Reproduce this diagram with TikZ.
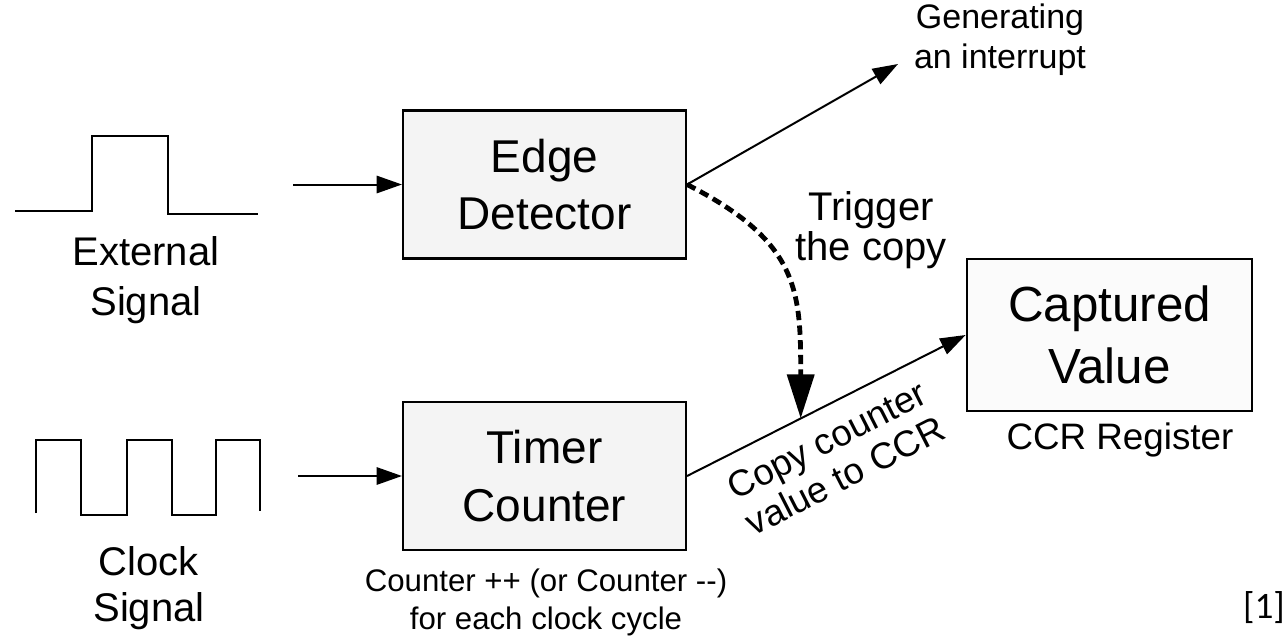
\documentclass[tikz,border=0pt]{standalone}
\usepackage{fontspec}
\setmainfont{Liberation Sans}
\newfontfamily\reffont{Carlito}
\usetikzlibrary{arrows.meta}

\tikzset{every picture/.style={line width=1.5pt}}
\tikzset{
  block/.style={draw, line width=1.8pt, fill=gray!9, minimum width=212pt, minimum height=111pt,
    inner sep=0pt, align=center, font=\fontsize{34.5}{43}\selectfont},
  sig/.style={line width=1.5pt, line join=miter},
  conn/.style={line width=1.5pt, -{Triangle[length=19pt, width=13pt]}},
  trig/.style={line width=3.6pt, dash pattern={on 7pt off 4pt},
    -{Triangle[length=33pt, width=20pt]}},
  lbl/.style={align=center, inner sep=0pt}
}

\begin{document}
\begin{tikzpicture}[x=0.75pt,y=0.75pt,yscale=-1,xscale=1]
\useasboundingbox (0,0) rectangle (1286,640);

% blocks
\node [block] (ed) at (544.5,184.5) {Edge\\Detector};
\node [block] (tc) at (544.5,476) {Timer\\Counter};
\node [block, fill=gray!3, minimum width=214pt, minimum height=114pt,
  font=\fontsize{37}{47}\selectfont] (cv) at (1109.5,335) {Captured\\Value};

% external signal
\draw [sig] (15,211) -- (92,211) -- (92,136) -- (168,136) -- (168,214) -- (258,214);
% clock signal
\draw [sig] (36,513) -- (36,440) -- (81,440) -- (81,515) -- (127,515) -- (127,440)
  -- (172,440) -- (172,515) -- (216,515) -- (216,440) -- (260,440) -- (260,511);

% free ends
\coordinate (extin) at (293,184.5);
\coordinate (clkin) at (298,476);
\coordinate (irq) at (898,64);

% connectors
\draw [conn] (extin) -- (ed.west);
\draw [conn] (clkin) -- (tc.west);
\draw [conn] (ed.east) -- (irq);
\draw [conn] (tc.east) -- coordinate[pos=0.408] (hit) (cv.west);
\draw [trig] (ed.east) to[out=27, in=-90, looseness=1.25] (hit);

% Text Node
\node [lbl, font=\fontsize{30}{37.5}\selectfont] (extlbl) at (146,280) {External\\Signal};
% Text Node
\node [lbl, font=\fontsize{30}{34}\selectfont] (clklbl) at (149,588) {Clock\\Signal};
% Text Node
\node [lbl, font=\fontsize{23.4}{28.5}\selectfont] (cntlbl) at (546,602) {Counter ++ (or Counter {-}{-})\\for each clock cycle};
% Text Node
\node [lbl, font=\fontsize{25.5}{30}\selectfont] (irqlbl) at (1000,40) {Generating\\an interrupt};
% Text Node
\node [lbl, font=\fontsize{30}{30}\selectfont] (triglbl) at (871,230) {Trigger\\the copy};
% Text Node
\node [lbl, font=\fontsize{27.6}{30}\selectfont] (ccrlbl) at (1120,440) {CCR Register};
% Text Node
\node [lbl, rotate=27, font=\fontsize{27.5}{30}\selectfont] (copylbl) at (836,458) {Copy counter\\value to CCR};
% Text Node
\node [lbl, font=\reffont\fontsize{28}{30}\selectfont] (ref) at (1264,608) {[1]};

\end{tikzpicture}
\end{document}
